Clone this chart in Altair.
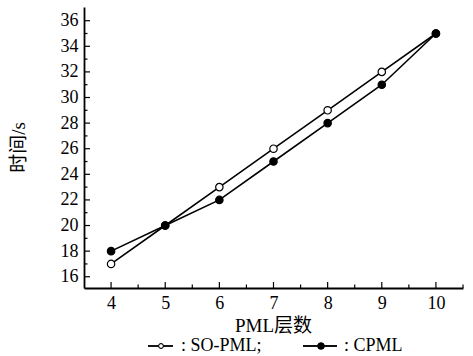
import altair as alt
import pandas as pd

layers_x = [4, 5, 6, 7, 8, 9, 10]
so_pml = [17, 20, 23, 26, 29, 32, 35]
cpml = [18, 20, 22, 25, 28, 31, 35]
series_names = ["SO-PML", "CPML"]

x_major = [4, 5, 6, 7, 8, 9, 10]
x_minor = [4.5, 5.5, 6.5, 7.5, 8.5, 9.5, 10.5]
y_major = [16, 18, 20, 22, 24, 26, 28, 30, 32, 34, 36]
y_minor = [17, 19, 21, 23, 25, 27, 29, 31, 33, 35]

legend_labels = [": SO-PML;", ": CPML"]

FONT = "Liberation Serif, Times New Roman, Noto Sans CJK SC"
W, H = 379, 281

df = pd.DataFrame({
    "x": layers_x * 2,
    "y": so_pml + cpml,
    "s": [series_names[0]] * len(layers_x) + [series_names[1]] * len(layers_x),
})

xscale = alt.Scale(domain=[3.5, 10.5], nice=False, zero=False)
yscale = alt.Scale(domain=[15.12, 37.07], nice=False, zero=False)
fillscale = alt.Scale(domain=series_names, range=["white", "black"])

xaxis = alt.Axis(title="PML层数", values=x_major, format="d",
                 titleX=189, titleY=37, titleAlign="center",
                 titleBaseline="middle")
yaxis = alt.Axis(title="时间/s", values=y_major, format="d",
                 titleX=-66, titleY=140, titleAngle=-90,
                 titleAlign="center", titleBaseline="middle")

base = alt.Chart(df)

lines = base.mark_line(color="black", strokeWidth=1.6).encode(
    x=alt.X("x:Q", scale=xscale, axis=xaxis),
    y=alt.Y("y:Q", scale=yscale, axis=yaxis),
    detail="s:N",
)

points = base.mark_point(shape="circle", size=55, stroke="black",
                         strokeWidth=1.2, opacity=1, filled=False).encode(
    x=alt.X("x:Q", scale=xscale, axis=xaxis),
    y=alt.Y("y:Q", scale=yscale, axis=yaxis),
    fill=alt.Fill("s:N", scale=fillscale, legend=None),
)

def xticks(vals, length):
    return alt.Chart(pd.DataFrame({"x": vals})).mark_rule(
        color="black", strokeWidth=1.2).encode(
        x=alt.X("x:Q", scale=xscale, axis=xaxis),
        y=alt.value(H), y2=alt.value(H - length))

def yticks(vals, length):
    return alt.Chart(pd.DataFrame({"y": vals})).mark_rule(
        color="black", strokeWidth=1.2).encode(
        y=alt.Y("y:Q", scale=yscale, axis=yaxis),
        x=alt.value(0), x2=alt.value(length))

ticks = [xticks(x_major, 6), xticks(x_minor, 3.5),
         yticks(y_major, 6), yticks(y_minor, 3.5)]

# legend (drawn below the plot)
LY = 339
leg_df = pd.DataFrame({"lbl": legend_labels})
leg_line1 = alt.Chart(leg_df).mark_rule(color="black", strokeWidth=1.4).encode(
    x=alt.value(64), x2=alt.value(89), y=alt.value(LY))
leg_line2 = alt.Chart(leg_df).mark_rule(color="black", strokeWidth=1.4).encode(
    x=alt.value(219), x2=alt.value(253), y=alt.value(LY))
leg_pt1 = alt.Chart(leg_df).mark_point(shape="circle", size=22, stroke="black",
                                       fill="white", filled=False, opacity=1,
                                       strokeWidth=1).encode(
    x=alt.value(77), y=alt.value(LY))
leg_pt2 = alt.Chart(leg_df).mark_point(shape="circle", size=26, stroke="black",
                                       fill="black", filled=True, opacity=1).encode(
    x=alt.value(237), y=alt.value(LY))
leg_t1 = alt.Chart(pd.DataFrame({"lbl": [legend_labels[0]]})).mark_text(
    font=FONT, fontSize=18, align="left", baseline="middle", color="black").encode(
    x=alt.value(97), y=alt.value(LY), text="lbl:N")
leg_t2 = alt.Chart(pd.DataFrame({"lbl": [legend_labels[1]]})).mark_text(
    font=FONT, fontSize=18, align="left", baseline="middle", color="black").encode(
    x=alt.value(260), y=alt.value(LY), text="lbl:N")

chart = alt.layer(lines, points, *ticks, leg_line1, leg_line2, leg_pt1, leg_pt2,
                  leg_t1, leg_t2).properties(
    width=W, height=H,
    autosize=alt.AutoSizeParams(type="none"),
    padding={"left": 84, "top": 7, "right": 10, "bottom": 68},
).configure_view(stroke=None).configure_axis(
    ticks=False, grid=False, domainColor="black", domainWidth=1.8,
    labelFont=FONT, labelFontSize=18, labelColor="black", labelPadding=6,
    titleFont=FONT, titleFontSize=19, titleFontWeight="normal", titleColor="black",
)

chart.save("out.html", embed_options={"renderer": "svg", "actions": False})
